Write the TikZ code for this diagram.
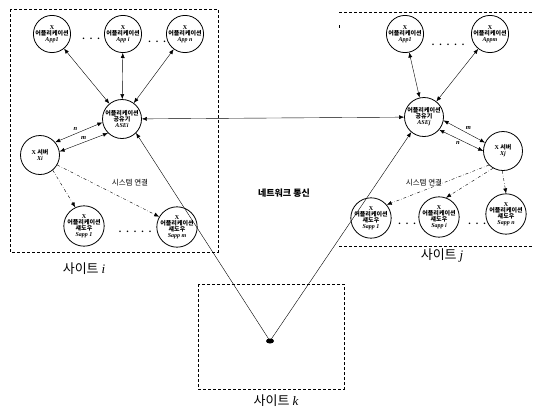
\documentclass[tikz,border=0pt]{standalone}
\usepackage{fontspec}
\setmainfont{Liberation Serif}
\newfontfamily\kr{Noto Sans CJK KR}
\usetikzlibrary{arrows.meta}
\begin{document}
\begin{tikzpicture}[x=1pt,y=-1pt,
 circ/.style={circle,draw,thick,minimum size=34pt,inner sep=0pt,align=center,font=\fontsize{6}{6}\selectfont},
 ase/.style={circ,minimum size=39pt},
 shd/.style={circ,minimum size=36pt},
 arr/.style={-{Latex[length=5pt,width=4pt]}},
 darr/.style={{Latex[length=5pt,width=4pt]}-{Latex[length=5pt,width=4pt]}},
 sys/.style={dash dot,-{Latex[length=5pt,width=4pt]}},
 box/.style={densely dashed,thin},
 lbl/.style={font=\kr\fontsize{13}{13}\selectfont},
 sm/.style={font=\fontsize{6.5}{7}\selectfont\bfseries\itshape},
 dots/.style={font=\bfseries}]
\useasboundingbox (0,0) rectangle (534,408);
% boxes
\draw[box] (10,9) rectangle (218,252);
\draw[box] (339,12) -- (534,12);
\draw[box] (339,246) -- (534,246);
\draw[box] (339,25) -- (339,30);
\draw[box] (198,284) rectangle (344,389);
\node[lbl] (si) at (84,269) {사이트 {\rmfamily\itshape i}};
\node[lbl] (sj) at (442,255) {사이트 {\rmfamily\itshape j}};
\node[lbl] (sk) at (276,401) {사이트 {\rmfamily\itshape k}};
\node[font=\kr\bfseries\fontsize{9}{9}\selectfont] (net) at (284,193) {네트워크 통신};
% site i
\node[circ] (a1) at (52,34) {\textbf{X}\\{\kr\bfseries 어플리케이션}\\\textbf{\textit{App1}}};
\node[circ] (ai) at (123,34) {\textbf{X}\\{\kr\bfseries 어플리케이션}\\\textbf{\textit{App i}}};
\node[circ] (an) at (185,34) {\textbf{X}\\{\kr\bfseries 어플리케이션}\\\textbf{\textit{App n}}};
\node[ase] (asei) at (122,119) {{\kr\bfseries 어플리케이션}\\{\kr\bfseries 공유기}\\\textbf{\textit{ASEi}}};
\node[ase] (xi) at (40,155) {\textbf{X} {\kr\bfseries 서버}\\\textbf{\textit{Xi}}};
\node[shd] (s1) at (84,226) {\textbf{X}\\{\kr\bfseries 어플리케이션}\\{\kr\bfseries 섀도우}\\\textbf{\textit{Sapp 1}}};
\node[shd] (sm) at (177,227) {\textbf{X}\\{\kr\bfseries 어플리케이션}\\{\kr\bfseries 섀도우}\\\textbf{\textit{Sapp m}}};
\node[dots] (d1) at (91,39) {.\ \ .\ \ .};
\node[dots] (d2) at (157,42) {.\ \ .\ \ .};
\node[dots] (d3) at (135,232) {.\ \ .\ \ .\ \ .\ \ .};
\node[font=\kr\fontsize{7.5}{8}\selectfont] (sysi) at (130,183) {시스템 연결};
\draw[darr] (a1) -- (asei);
\draw[darr] (ai) -- (asei);
\draw[darr] (an) -- (asei);
\draw[darr] (xi.40) -- node[sm,above left=-2pt] {n} (asei.190);
\draw[darr] (xi.10) -- node[sm,above=-1pt] {m} (asei.225);
\draw[sys] (xi.-50) -- (s1.115);
\draw[sys] (xi.-30) -- (sm.150);
% site j
\node[circ] (b1) at (405,34) {\textbf{X}\\{\kr\bfseries 어플리케이션}\\\textbf{\textit{App1}}};
\node[circ] (bm) at (490,34) {\textbf{X}\\{\kr\bfseries 어플리케이션}\\\textbf{\textit{Appm}}};
\node[ase] (asej) at (424,117) {{\kr\bfseries 어플리케이션}\\{\kr\bfseries 공유기}\\\textbf{\textit{ASEj}}};
\node[ase] (xj) at (503,151) {\textbf{X} {\kr\bfseries 서버}\\\textbf{\textit{Xj}}};
\node[shd] (t1) at (371,218) {\textbf{X}\\{\kr\bfseries 어플리케이션}\\{\kr\bfseries 섀도우}\\\textbf{\textit{Sapp 1}}};
\node[shd] (ti) at (439,217) {\textbf{X}\\{\kr\bfseries 어플리케이션}\\{\kr\bfseries 섀도우}\\\textbf{\textit{Sapp i}}};
\node[shd] (tn) at (506,214) {\textbf{X}\\{\kr\bfseries 어플리케이션}\\{\kr\bfseries 섀도우}\\\textbf{\textit{Sapp n}}};
\node[dots] (e1) at (448,45) {.\ \ .\ \ .\ \ .\ \ .};
\node[dots] (e2) at (407,224) {.\ \ .\ \ .};
\node[dots] (e3) at (477,224) {.\ \ .\ \ .};
\node[font=\kr\fontsize{7.5}{8}\selectfont] (sysj) at (424,183) {시스템 연결};
\draw[darr] (b1) -- (asej);
\draw[darr] (bm) -- (asej);
\draw[darr] (asej.-10) -- node[sm,above right=-2pt] {m} (xj.155);
\draw[darr] (asej.-40) -- node[sm,below left=-2pt] {n} (xj.180);
\draw[sys] (xj.225) -- (t1.40);
\draw[sys] (xj.240) -- (ti.70);
\draw[sys] (xj.268) -- (tn.90);
% network
\draw[darr] (asei) -- (asej);
\coordinate (k) at (270,341);
\fill (k) ellipse (4pt and 2.5pt);
\draw[arr] (k) -- (asei.-45);
\draw[arr] (k) -- (asej.-130);
\end{tikzpicture}
\end{document}
